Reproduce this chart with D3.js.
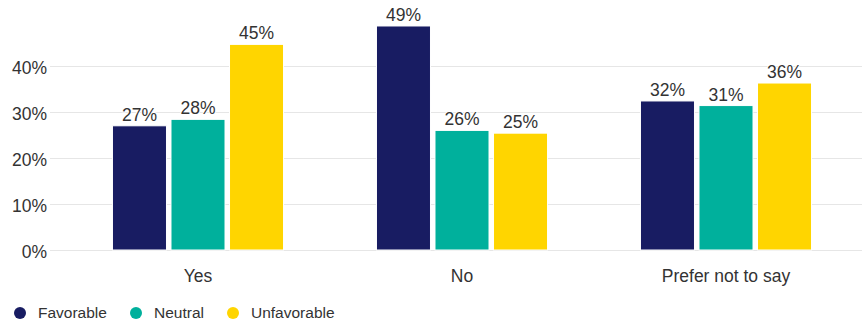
<!DOCTYPE html>
<html>
<head>
<meta charset="utf-8">
<script src="https://cdn.jsdelivr.net/npm/d3@7"></script>
<style>
  html, body { margin: 0; padding: 0; background: #fff; }
  svg { display: block; font-family: "Liberation Sans", Arial, sans-serif; }
</style>
</head>
<body>
<svg id="chart" width="864" height="322"></svg>
<script>
const categories = ["Yes", "No", "Prefer not to say"];
const seriesNames = ["Favorable", "Neutral", "Unfavorable"];
const favorable = [27.0, 48.7, 32.4];
const neutral = [28.4, 26.0, 31.4];
const unfavorable = [44.7, 25.4, 36.3];
const colors = ["#181c62", "#00b09c", "#ffd500"];
const yTicks = [0, 10, 20, 30, 40];

const seriesValues = [favorable, neutral, unfavorable];
const data = categories.map((c, i) => ({
  category: c,
  values: seriesNames.map((s, j) => ({ series: s, value: seriesValues[j][i], color: colors[j] }))
}));

const svg = d3.select("#chart");
const y = d3.scaleLinear().domain([0, 50]).range([250, 20]);
const x0 = d3.scaleBand().domain(categories).range([66, 858]).paddingInner(0.352).paddingOuter(0.176);
const x1 = d3.scaleBand().domain(seriesNames).range([0, x0.bandwidth()]).paddingInner(0.077);

// gridlines
svg.append("g").selectAll("line").data(yTicks).join("line")
  .attr("x1", 50).attr("x2", 862)
  .attr("y1", d => Math.round(y(d)) + 0.5).attr("y2", d => Math.round(y(d)) + 0.5)
  .attr("stroke", "#e6e6e6").attr("stroke-width", 1);

// y axis labels
const yAxis = d3.axisLeft(y).tickValues(yTicks).tickFormat(d => d + "%").tickSize(0).tickPadding(0);
const yg = svg.append("g").attr("transform", "translate(47,0)").call(yAxis);
yg.select(".domain").remove();
yg.selectAll("text").attr("font-size", 17.5).attr("fill", "#333").attr("dy", "0.4em")
  .attr("font-family", "'Liberation Sans', Arial, sans-serif");

// x axis labels
const xAxis = d3.axisBottom(x0).tickSize(0).tickPadding(0);
const xg = svg.append("g").attr("transform", "translate(0,269)").call(xAxis);
xg.select(".domain").remove();
xg.selectAll("text").attr("font-size", 17.5).attr("fill", "#333").attr("dy", "0.73em")
  .attr("font-family", "'Liberation Sans', Arial, sans-serif");

// bars
const groups = svg.append("g").selectAll("g").data(data).join("g")
  .attr("transform", d => `translate(${x0(d.category)},0)`);

groups.selectAll("rect").data(d => d.values).join("rect")
  .attr("x", d => x1(d.series))
  .attr("y", d => y(d.value))
  .attr("width", x1.bandwidth())
  .attr("height", d => y(0) - y(d.value))
  .attr("fill", d => d.color)
  .attr("stroke", "#ffffff").attr("stroke-width", 1);

groups.selectAll("text.lbl").data(d => d.values).join("text")
  .attr("class", "lbl")
  .attr("x", d => x1(d.series) + x1.bandwidth() / 2)
  .attr("y", d => y(d.value) - 5)
  .attr("text-anchor", "middle")
  .attr("font-size", 17.5)
  .attr("fill", "#333")
  .attr("stroke", "#fff").attr("stroke-width", 2).attr("paint-order", "stroke")
  .text(d => Math.round(d.value) + "%");

// legend
const legendX = [20, 136, 233];
const legend = svg.append("g").selectAll("g").data(seriesNames).join("g")
  .attr("transform", (d, i) => `translate(${legendX[i]},313)`);
legend.append("circle").attr("r", 6).attr("fill", (d, i) => colors[i]);
legend.append("text").attr("x", 18).attr("dy", "0.35em")
  .attr("font-size", 15.5).attr("fill", "#333").text(d => d);
</script>
</body>
</html>
